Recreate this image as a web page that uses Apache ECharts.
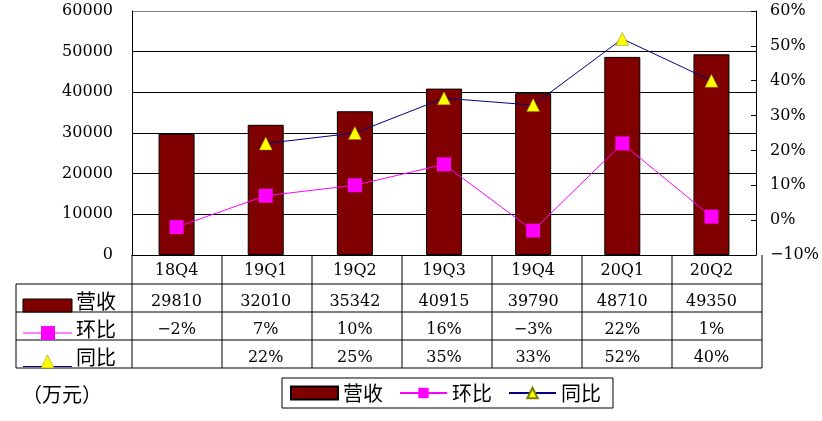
<!DOCTYPE html>
<html lang="zh">
  <head>
    <meta charset="UTF-8">
    <title>营收 环比 同比</title>
    <script src="https://cdn.jsdelivr.net/npm/echarts@6/dist/echarts.min.js"></script>
    <style>
      html, body { margin: 0; padding: 0; background: #fff; }
      #chart { width: 822px; height: 421px; }
    </style>
  </head>
  <body>
    <div id="chart"></div>
    <script>
      // 数据
      const quarters = ['18Q4', '19Q1', '19Q2', '19Q3', '19Q4', '20Q1', '20Q2']
      const revenue = [29810, 32010, 35342, 40915, 39790, 48710, 49350] // 营收（万元）
      const qoq = [-2, 7, 10, 16, -3, 22, 1] // 环比 %
      const yoy = [null, 22, 25, 35, 33, 52, 40] // 同比 %
      const leftTicks = { min: 0, max: 60000, interval: 10000 }
      const rightTicks = { min: -10, max: 60, interval: 10 }

      const NUM_FONT = "'DejaVu Serif', serif"
      const CJK_FONT = "'Noto Sans CJK SC', sans-serif"
      const gridLeft = 132, gridRight = 762, gridTop = 11, gridBottom = 255
      const rowLines = [284, 312, 340, 368] // 表格横线
      const tableLeft = 16

      const fmtPct = v => (v < 0 ? '\u2212' + Math.abs(v) : v) + '%'

      const chart = echarts.init(document.getElementById('chart'))
      const option = {
        animation: false,
        grid: { left: gridLeft, right: 822 - gridRight, top: gridTop, bottom: 421 - gridBottom, containLabel: false },
        legend: {
          left: 282, top: 378,
          orient: 'horizontal',
          borderColor: '#000', borderWidth: 1,
          padding: [5, 12, 5, 8],
          itemWidth: 47, itemHeight: 13, itemGap: 16,
          textStyle: { fontFamily: CJK_FONT, fontSize: 20, color: '#000' },
          data: [{ name: '营收', icon: 'rect' }, '环比', '同比']
        },
        xAxis: {
          type: 'category',
          data: quarters,
          axisLine: { lineStyle: { color: '#000', width: 1 } },
          axisTick: { show: false },
          axisLabel: { margin: 8, fontFamily: NUM_FONT, fontSize: 16, color: '#000' }
        },
        yAxis: [
          {
            type: 'value',
            min: leftTicks.min, max: leftTicks.max, interval: leftTicks.interval,
            axisLine: { show: true, lineStyle: { color: '#000' } },
            axisTick: { show: false },
            axisLabel: { margin: 19, fontFamily: NUM_FONT, fontSize: 16, color: '#000', formatter: v => String(v) },
            splitLine: { lineStyle: { color: ['#000', '#000', '#000', '#000', '#000', '#000', '#808080'], width: 1 } }
          },
          {
            type: 'value',
            min: rightTicks.min, max: rightTicks.max, interval: rightTicks.interval,
            axisLine: { show: true, lineStyle: { color: '#000' } },
            axisTick: { show: true, inside: true, length: 5, lineStyle: { color: '#000' } },
            axisLabel: { margin: 14, fontFamily: NUM_FONT, fontSize: 16, color: '#000', formatter: fmtPct },
            splitLine: { show: false }
          }
        ],
        series: [
          {
            name: '营收', type: 'bar', yAxisIndex: 0, barWidth: 36,
            itemStyle: { color: '#800000', borderColor: '#000', borderWidth: 1 },
            data: revenue
          },
          {
            name: '环比', type: 'line', yAxisIndex: 1,
            symbol: 'rect', symbolSize: 14,
            lineStyle: { color: '#ff00ff', width: 1 },
            itemStyle: { color: '#ff00ff' },
            data: qoq
          },
          {
            name: '同比', type: 'line', yAxisIndex: 1,
            symbol: 'triangle', symbolSize: 13,
            lineStyle: { color: '#000080', width: 1 },
            itemStyle: { color: '#ffff00', borderColor: '#808000', borderWidth: 0.5 },
            data: yoy
          }
        ]
      }
      chart.setOption(option)

      // ---------- 数据表 ----------
      const g = []
      const line = (x1, y1, x2, y2) => g.push({
        type: 'line', shape: { x1, y1, x2, y2 }, style: { stroke: '#000', lineWidth: 1 }, silent: true
      })
      const colW = (gridRight - gridLeft) / quarters.length
      // 竖线
      for (let i = 0; i <= quarters.length; i++) {
        const x = gridLeft + i * colW
        line(x, gridBottom, x, rowLines[3])
      }
      line(tableLeft, rowLines[0], tableLeft, rowLines[3])
      // 横线
      rowLines.forEach(y => line(tableLeft, y, gridRight, y))

      const rows = [
        { name: '营收', vals: revenue.map(v => String(v)), y: 302 },
        { name: '环比', vals: qoq.map(fmtPct), y: 330 },
        { name: '同比', vals: yoy.map(v => v === null ? '' : fmtPct(v)), y: 358 }
      ]
      rows.forEach(r => {
        g.push({
          type: 'text', x: 76, y: r.y - 1,
          style: { text: r.name, font: '20px ' + CJK_FONT, fill: '#000', textAlign: 'left', textVerticalAlign: 'middle' }
        })
        r.vals.forEach((t, i) => {
          const cx = chart.convertToPixel({ xAxisIndex: 0 }, i)
          g.push({
            type: 'text', x: cx, y: r.y,
            style: { text: t, font: '16px ' + NUM_FONT, fill: '#000', textAlign: 'center', textVerticalAlign: 'middle' }
          })
        })
      })

      // 表格左侧图例
      g.push({ type: 'rect', shape: { x: 23, y: 299, width: 49, height: 13 }, style: { fill: '#800000', stroke: '#000', lineWidth: 1 } })
      g.push({ type: 'line', shape: { x1: 23, y1: 333, x2: 72, y2: 333 }, style: { stroke: '#ff00ff', lineWidth: 1 } })
      g.push({ type: 'rect', shape: { x: 41, y: 326, width: 14, height: 14 }, style: { fill: '#ff00ff' } })
      g.push({ type: 'line', shape: { x1: 23, y1: 366.5, x2: 72, y2: 366.5 }, style: { stroke: '#000080', lineWidth: 1 } })
      g.push({ type: 'polygon', shape: { points: [[47.5, 355], [41, 368], [54, 368]] }, style: { fill: '#ffff00', stroke: '#808000', lineWidth: 0.5 } })

      // 单位
      g.push({
        type: 'text', x: 22, y: 394,
        style: { text: '（万元）', font: '20px ' + CJK_FONT, fill: '#000', textAlign: 'left', textVerticalAlign: 'middle' }
      })

      chart.setOption({ graphic: g })
    </script>
  </body>
</html>
